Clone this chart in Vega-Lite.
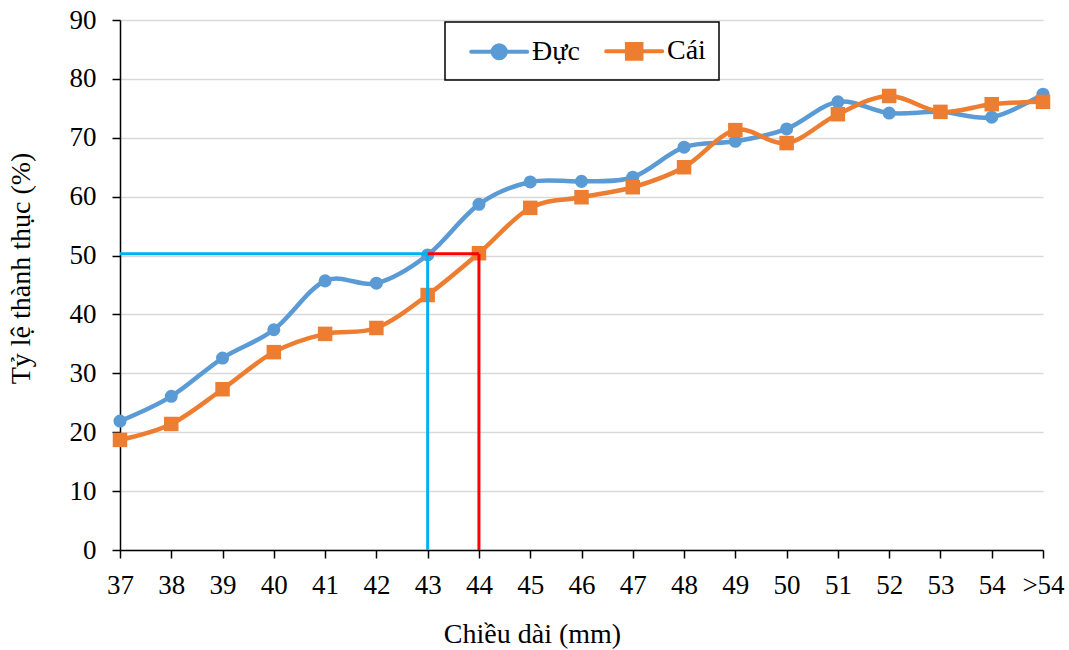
{
  "$schema": "https://vega.github.io/schema/vega-lite/v6.json",
  "width": 923,
  "height": 530,
  "autosize": {"type": "none"},
  "padding": {"left": 120, "top": 20, "right": 26, "bottom": 100},
  "background": "white",
  "config": {
    "view": {"stroke": null},
    "font": "Liberation Serif",
    "axis": {
      "labelFont": "Liberation Serif",
      "labelFontSize": 27,
      "labelColor": "black",
      "titleFont": "Liberation Serif",
      "titleFontSize": 28,
      "titleFontWeight": "normal",
      "titleColor": "black",
      "domainColor": "black",
      "domainWidth": 1.5,
      "tickColor": "black",
      "tickWidth": 1.5,
      "tickSize": 8
    }
  },
  "datasets": {
    "series": [
      {"len": "37", "series": "Đực", "value": 21.9},
      {"len": "38", "series": "Đực", "value": 26.1},
      {"len": "39", "series": "Đực", "value": 32.6},
      {"len": "40", "series": "Đực", "value": 37.4},
      {"len": "41", "series": "Đực", "value": 45.7},
      {"len": "42", "series": "Đực", "value": 45.3},
      {"len": "43", "series": "Đực", "value": 50.1},
      {"len": "44", "series": "Đực", "value": 58.7},
      {"len": "45", "series": "Đực", "value": 62.5},
      {"len": "46", "series": "Đực", "value": 62.6},
      {"len": "47", "series": "Đực", "value": 63.3},
      {"len": "48", "series": "Đực", "value": 68.4},
      {"len": "49", "series": "Đực", "value": 69.4},
      {"len": "50", "series": "Đực", "value": 71.5},
      {"len": "51", "series": "Đực", "value": 76.1},
      {"len": "52", "series": "Đực", "value": 74.2},
      {"len": "53", "series": "Đực", "value": 74.4},
      {"len": "54", "series": "Đực", "value": 73.5},
      {"len": ">54", "series": "Đực", "value": 77.4},
      {"len": "37", "series": "Cái", "value": 18.7},
      {"len": "38", "series": "Cái", "value": 21.4},
      {"len": "39", "series": "Cái", "value": 27.3},
      {"len": "40", "series": "Cái", "value": 33.6},
      {"len": "41", "series": "Cái", "value": 36.7},
      {"len": "42", "series": "Cái", "value": 37.7},
      {"len": "43", "series": "Cái", "value": 43.3},
      {"len": "44", "series": "Cái", "value": 50.4},
      {"len": "45", "series": "Cái", "value": 58.1},
      {"len": "46", "series": "Cái", "value": 59.9},
      {"len": "47", "series": "Cái", "value": 61.6},
      {"len": "48", "series": "Cái", "value": 65.0},
      {"len": "49", "series": "Cái", "value": 71.3},
      {"len": "50", "series": "Cái", "value": 69.1},
      {"len": "51", "series": "Cái", "value": 74.0},
      {"len": "52", "series": "Cái", "value": 77.1},
      {"len": "53", "series": "Cái", "value": 74.4},
      {"len": "54", "series": "Cái", "value": 75.7},
      {"len": ">54", "series": "Cái", "value": 76.1}
    ],
    "refs": [
      {"who": "Đực", "x": "37", "x2": "43", "y": 50.3, "y2": 50.3},
      {"who": "Đực", "x": "43", "x2": "43", "y": 50.3, "y2": 0},
      {"who": "Cái", "x": "43", "x2": "44", "y": 50.3, "y2": 50.3},
      {"who": "Cái", "x": "44", "x2": "44", "y": 50.3, "y2": 0}
    ]
  },
  "layer": [
    {
      "data": {"name": "series"},
      "mark": {"type": "line", "interpolate": "cardinal", "strokeWidth": 4.5},
      "encoding": {
        "x": {
          "field": "len", "type": "ordinal",
          "scale": {"type": "point", "padding": 0, "domain": ["37","38","39","40","41","42","43","44","45","46","47","48","49","50","51","52","53","54",">54"]},
          "axis": {"title": "Chiều dài (mm)", "labelAngle": 0, "grid": false, "labelPadding": 14, "titlePadding": 22, "titleX": 412}
        },
        "y": {
          "field": "value", "type": "quantitative",
          "scale": {"domain": [0, 90], "nice": false, "zero": true},
          "axis": {"title": "Tỷ lệ thành thục (%)", "values": [0,10,20,30,40,50,60,70,80,90], "grid": true, "gridColor": "#D9D9D9", "gridWidth": 1.5, "labelPadding": 16, "titlePadding": 34, "titleY": 248}
        },
        "color": {
          "field": "series", "type": "nominal",
          "scale": {"domain": ["Đực", "Cái"], "range": ["#5B9BD5", "#ED7D31"]},
          "legend": {
            "title": null,
            "orient": "none",
            "legendX": 325,
            "legendY": 2,
            "direction": "horizontal",
            "strokeColor": "black",
            "padding": 13,
            "labelFont": "Liberation Serif",
            "labelFontSize": 28,
            "labelColor": "black",
            "labelOffset": 42,
            "columnPadding": 13,
            "symbolSize": 784,
            "symbolStrokeWidth": 4,
            "encode": {
              "legend": {"update": {"strokeWidth": {"value": 1.5}}},
              "symbols": {
                "update": {
                  "shape": {"signal": "datum.value === 'Đực' ? 'M-0.2,0L3.8,0M2.27,0A0.47,0.47,0,1,1,1.33,0A0.47,0.47,0,1,1,2.27,0Z' : 'M-0.2,0L3.8,0M1.28,-0.52L2.32,-0.52L2.32,0.52L1.28,0.52Z'"},
                  "fill": {"signal": "datum.value === 'Đực' ? '#5B9BD5' : '#ED7D31'"},
                  "stroke": {"signal": "datum.value === 'Đực' ? '#5B9BD5' : '#ED7D31'"},
                  "strokeWidth": {"value": 4},
                  "strokeCap": {"value": "round"},
                  "opacity": {"value": 1}
                }
              }
            }
          }
        }
      }
    },
    {
      "data": {"name": "series"},
      "transform": [{"filter": "datum.series === 'Đực'"}],
      "mark": {"type": "point", "shape": "circle", "filled": true, "size": 170, "opacity": 1},
      "encoding": {
        "x": {"field": "len", "type": "ordinal"},
        "y": {"field": "value", "type": "quantitative"},
        "color": {"field": "series", "type": "nominal"}
      }
    },
    {
      "data": {"name": "series"},
      "transform": [{"filter": "datum.series === 'Cái'"}],
      "mark": {"type": "point", "shape": "square", "filled": true, "size": 210, "opacity": 1},
      "encoding": {
        "x": {"field": "len", "type": "ordinal"},
        "y": {"field": "value", "type": "quantitative"},
        "color": {"field": "series", "type": "nominal"}
      }
    },
    {
      "data": {"name": "refs"},
      "transform": [{"filter": "datum.who === 'Đực'"}],
      "mark": {"type": "rule", "color": "#00B0F0", "strokeWidth": 3},
      "encoding": {
        "x": {"field": "x", "type": "ordinal"},
        "x2": {"field": "x2"},
        "y": {"field": "y", "type": "quantitative"},
        "y2": {"field": "y2"}
      }
    },
    {
      "data": {"name": "refs"},
      "transform": [{"filter": "datum.who === 'Cái'"}],
      "mark": {"type": "rule", "color": "#FF0000", "strokeWidth": 3},
      "encoding": {
        "x": {"field": "x", "type": "ordinal"},
        "x2": {"field": "x2"},
        "y": {"field": "y", "type": "quantitative"},
        "y2": {"field": "y2"}
      }
    }
  ]
}
